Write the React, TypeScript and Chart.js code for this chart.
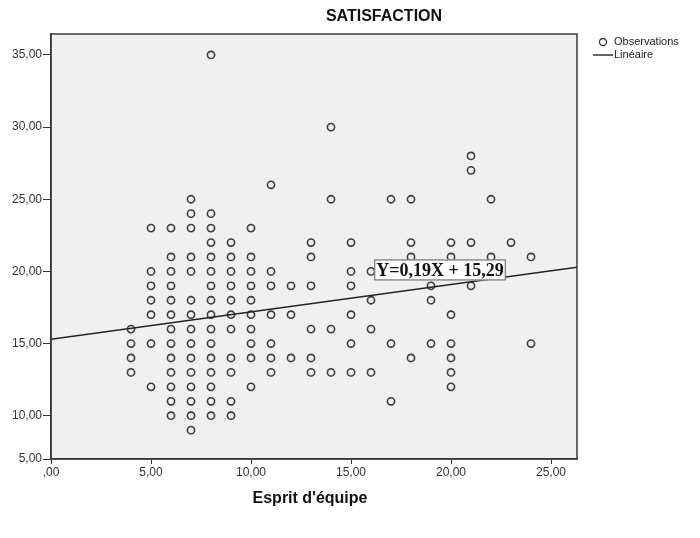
import React, { useEffect, useRef } from 'react';
import { Chart, registerables } from 'chart.js';

Chart.register(...registerables);

const chartTitle = 'SATISFACTION';
const xAxisTitle = "Esprit d'équipe";
const legendPoints = 'Observations';
const legendLine = 'Linéaire';

// x value of each column of observations
const columnX = [4, 5, 6, 7, 8, 9, 10, 11, 12, 13, 14, 15, 16, 17, 18, 19, 20, 21, 22, 23, 24];
// y values observed in each column
const columnY = [
  [16, 15, 14, 13],
  [23, 20, 19, 18, 17, 15, 12],
  [23, 21, 20, 19, 18, 17, 16, 15, 14, 13, 12, 11, 10],
  [25, 24, 23, 21, 20, 18, 17, 16, 15, 14, 13, 12, 11, 10, 9],
  [35, 24, 23, 22, 21, 20, 19, 18, 17, 16, 15, 14, 13, 12, 11, 10],
  [22, 21, 20, 19, 18, 17, 16, 14, 13, 11, 10],
  [23, 21, 20, 19, 18, 17, 16, 15, 14, 12],
  [26, 20, 19, 17, 15, 14, 13],
  [19, 17, 14],
  [22, 21, 19, 16, 14, 13],
  [30, 25, 16, 13],
  [22, 20, 19, 17, 15, 13],
  [20, 18, 16, 13],
  [25, 15, 11],
  [25, 22, 21, 14],
  [19, 18, 15],
  [22, 21, 17, 15, 14, 13, 12],
  [28, 27, 22, 19],
  [25, 21],
  [22],
  [21, 15],
];

const fitSlope = 0.19;
const fitIntercept = 15.29;
const fitLabel = 'Y=0,19X + 15,29';
const fitLabelAt = [19.45, 20.1];

const xMin = 0;
const xMax = 26.3;
const yMin = 7.0;
const yMax = 36.45;
const xTicks = [0, 5, 10, 15, 20, 25];
const xTickLabels = [',00', '5,00', '10,00', '15,00', '20,00', '25,00'];
const yTicks = [yMin, 10, 15, 20, 25, 30, 35];
const yTickLabels = ['5,00', '10,00', '15,00', '20,00', '25,00', '30,00', '35,00'];

const SANS = "'Liberation Sans', Arial, sans-serif";

export default function App() {
  const ref = useRef<HTMLCanvasElement | null>(null);

  useEffect(() => {
    document.body.style.margin = '0';
    const canvas = ref.current;
    if (!canvas) return;

    const points: { x: number; y: number }[] = [];
    columnX.forEach((x, i) => columnY[i].forEach((y) => points.push({ x, y })));

    const decor = {
      id: 'decor',
      beforeDraw(chart: any) {
        const { ctx, chartArea: a } = chart;
        ctx.save();
        ctx.fillStyle = '#f0f0f0';
        ctx.fillRect(a.left, a.top, a.right - a.left, a.bottom - a.top);
        ctx.restore();
      },
      afterDraw(chart: any) {
        const { ctx, chartArea: a, scales } = chart;
        ctx.save();
        // frame
        ctx.strokeStyle = '#3a3a3a';
        ctx.lineWidth = 1.5;
        ctx.strokeRect(a.left, a.top, a.right - a.left, a.bottom - a.top);

        // fit label
        const cx = scales.x.getPixelForValue(fitLabelAt[0]);
        const cy = scales.y.getPixelForValue(fitLabelAt[1]);
        ctx.font = "bold 18px 'Liberation Serif', 'Times New Roman', serif";
        const tw = ctx.measureText(fitLabel).width;
        const bw = tw + 4;
        const bh = 21;
        ctx.fillStyle = '#ffffff';
        ctx.fillRect(cx - bw / 2, cy - bh / 2, bw, bh);
        ctx.strokeStyle = '#555';
        ctx.lineWidth = 1;
        ctx.strokeRect(cx - bw / 2 + 0.5, cy - bh / 2 + 0.5, bw - 1, bh - 1);
        ctx.fillStyle = '#111';
        ctx.textAlign = 'center';
        ctx.textBaseline = 'middle';
        ctx.fillText(fitLabel, cx, cy + 1);

        // title
        ctx.font = `bold 16px ${SANS}`;
        ctx.fillStyle = '#111';
        ctx.textAlign = 'center';
        ctx.textBaseline = 'middle';
        ctx.fillText(chartTitle, 384, 17);

        // x axis title
        ctx.fillText(xAxisTitle, (a.left + a.right) / 2 - 4, 499);

        // legend
        ctx.font = `11px ${SANS}`;
        ctx.textAlign = 'left';
        ctx.fillStyle = '#222';
        ctx.beginPath();
        ctx.arc(603, 42, 3.5, 0, Math.PI * 2);
        ctx.strokeStyle = '#333';
        ctx.lineWidth = 1.3;
        ctx.stroke();
        ctx.fillText(legendPoints, 614, 42);
        ctx.beginPath();
        ctx.moveTo(593, 55);
        ctx.lineTo(613, 55);
        ctx.lineWidth = 1.5;
        ctx.stroke();
        ctx.fillText(legendLine, 614, 55);
        ctx.restore();
      },
    };

    const chart = new Chart(canvas, {
      type: 'scatter',
      data: {
        datasets: [
          {
            label: legendPoints,
            data: points,
            pointStyle: 'circle',
            pointRadius: 3.6,
            pointBorderWidth: 1.6,
            borderColor: 'rgba(40,40,40,0.9)',
            backgroundColor: 'rgba(0,0,0,0)',
            order: 2,
          },
          {
            type: 'line',
            label: legendLine,
            data: [
              { x: xMin, y: fitIntercept + fitSlope * xMin },
              { x: xMax, y: fitIntercept + fitSlope * xMax },
            ],
            borderColor: '#222',
            borderWidth: 1.5,
            pointRadius: 0,
            fill: false,
            order: 1,
          } as any,
        ],
      },
      options: {
        animation: false,
        responsive: false,
        maintainAspectRatio: false,
        layout: { padding: { top: 34, right: 123, left: 0, bottom: 0 } },
        plugins: {
          legend: { display: false },
          tooltip: { enabled: false },
          title: { display: false },
        },
        scales: {
          x: {
            type: 'linear',
            min: xMin,
            max: xMax,
            afterBuildTicks: (s: any) => {
              s.ticks = xTicks.map((v) => ({ value: v }));
            },
            afterFit: (s: any) => {
              s.height = 79;
            },
            ticks: {
              callback: (v: any) => xTickLabels[xTicks.indexOf(Number(v))] ?? '',
              font: { family: SANS, size: 12 },
              color: '#333',
              padding: 1,
              maxRotation: 0,
              autoSkip: false,
            },
            grid: { drawOnChartArea: false, drawTicks: true, tickLength: 5, color: '#333', lineWidth: 1 },
            border: { display: true, color: '#333', width: 1.5 },
          },
          y: {
            type: 'linear',
            min: yMin,
            max: yMax,
            afterBuildTicks: (s: any) => {
              s.ticks = yTicks.map((v) => ({ value: v }));
            },
            afterFit: (s: any) => {
              s.width = 51;
            },
            ticks: {
              callback: (v: any) => yTickLabels[yTicks.indexOf(Number(v))] ?? '',
              font: { family: SANS, size: 12 },
              color: '#333',
              padding: 1,
              autoSkip: false,
            },
            grid: { drawOnChartArea: false, drawTicks: true, tickLength: 8, color: '#333', lineWidth: 1 },
            border: { display: true, color: '#333', width: 1.5 },
          },
        },
      },
      plugins: [decor],
    } as any);

    return () => chart.destroy();
  }, []);

  return (
    <div style={{ width: 700, height: 538, background: '#fff' }}>
      <canvas ref={ref} width={700} height={538} style={{ width: 700, height: 538, display: 'block' }} />
    </div>
  );
}
